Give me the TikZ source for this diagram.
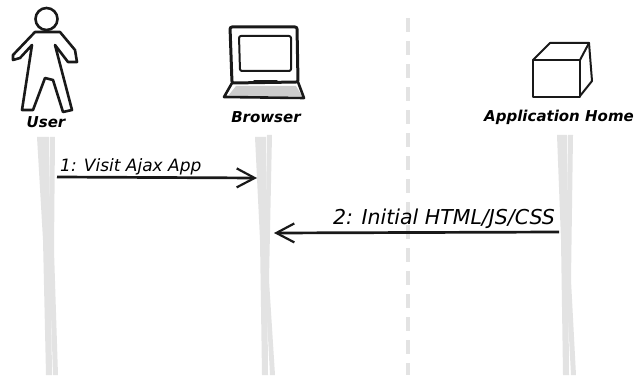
\documentclass[tikz,border=0pt]{standalone}
\usepackage{fontspec}
\setmainfont{DejaVu Sans}
\usepackage{tikz}
\usetikzlibrary{arrows.meta}
\definecolor{lifegray}{gray}{0.89}
\tikzstyle{actor} = [font=\itshape\bfseries\fontsize{15}{17}\selectfont, inner sep=0pt]
\tikzstyle{msg} = [font=\itshape\fontsize{17}{19}\selectfont, inner sep=0pt]
\tikzstyle{wideMsg} = [font=\itshape\fontsize{20.5}{22}\selectfont, inner sep=0pt]
\tikzstyle{icon} = [draw=black!90, line width=2.6pt, line join=round, line cap=round]
\tikzstyle{life} = [fill=lifegray, draw=none]
\tikzstyle{arrow} = [draw=black!90, line width=2.7pt, -{Straight Barb[length=18pt,width=19pt,line width=2.2pt]}]

\begin{document}
\begin{tikzpicture}[x=1pt, y=-1pt]
	\useasboundingbox (0,0) rectangle (636,379);
	% lifelines
	\fill [life] (37,137) -- (49,137) -- (52,375) -- (46,375) -- (43,240) -- cycle;
	\fill [life] (50,137) -- (55,137) -- (54,250) -- (58,375) -- (53,375) -- (49,250) -- cycle;
	\fill [life] (255,137) -- (266,137) -- (268,375) -- (262,375) -- (260,240) -- cycle;
	\fill [life] (267,135) -- (272,135) -- (269,280) -- (275,375) -- (270,375) -- (265,280) -- cycle;
	\fill [life] (557,135) -- (567,135) -- (569,375) -- (563,375) -- (561,240) -- cycle;
	\fill [life] (568,135) -- (573,135) -- (571,280) -- (576,375) -- (571,375) -- (566,280) -- cycle;
	\draw [lifegray, line width=4pt, dash pattern=on 14pt off 9pt] (407.5,18) -- (407.5,375);

	% labels
	\node [actor] (user) at (46,122) {User};
	\node [actor] (browser) at (266,117) {Browser};
	\node [actor] (appHome) at (559,117) {Application Home};

	% user
	\draw [icon] (46.5,19) circle (11);
	\draw [icon] (35,32) -- (13,55) -- (13,60) -- (20,58) -- (32,45)
		-- (22,110) -- (33,110) -- (45,78) -- (53,80) -- (63,112) -- (72,110) -- (55,45)
		-- (68,62) -- (77,62) -- (75,50) -- (60,32) -- cycle;
	% browser
	\fill [black!20] (236,86) -- (296,86) -- (302,96) -- (228,96) -- cycle;
	\draw [icon, line width=3pt, rounded corners=2pt] (230,27) -- (297,27) -- (298,82) -- (232,83) -- cycle;
	\draw [icon, line width=2pt, rounded corners=2pt] (239,36) -- (291,36) -- (291,71) -- (240,71) -- cycle;
	\draw [icon] (232,83) -- (224,97) -- (304,98) -- (298,82);
	\draw [icon, line width=1.4pt] (254,81) -- (277,81);
	% application home
	\draw [icon, line width=2pt] (533,60) -- (533,97) -- (580,97) -- (580,60) -- cycle;
	\draw [icon, line width=2pt] (533,60) -- (550,43) -- (589,43) -- (580,60);
	\draw [icon, line width=2pt] (589,43) -- (592,81) -- (580,96);

	% messages
	\node [msg, anchor=south west] (visit) at (60,175) {1: Visit Ajax App};
	\node [wideMsg, anchor=south east] (initial) at (555,229) {2: Initial HTML/JS/CSS};
	\coordinate (userLife) at (57,177);
	\coordinate (browserIn) at (257,178);
	\coordinate (appLife) at (559,232);
	\coordinate (browserBack) at (274,233);
	\path [arrow] (userLife) -- (browserIn);
	\path [arrow] (appLife) -- (browserBack);
\end{tikzpicture}
\end{document}
